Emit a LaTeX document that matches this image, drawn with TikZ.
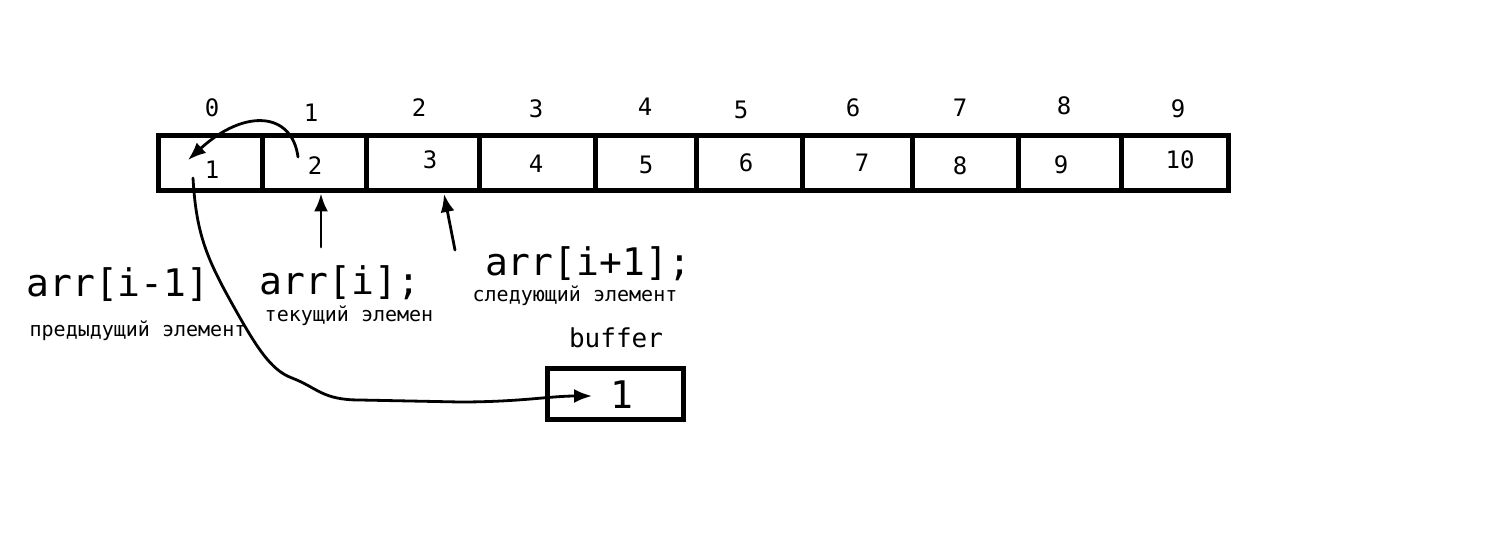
\documentclass[tikz,border=0pt]{standalone}
\usepackage{fontspec}
\setmonofont{DejaVu Sans Mono}
\usetikzlibrary{arrows,arrows.meta,positioning,shapes}

\begin{document}
\begin{tikzpicture}[x=0.5pt,y=-0.5pt,
  cell/.style={rectangle,draw,line width=2.5pt,minimum height=27.5pt,inner sep=0pt},
  idx/.style={font=\ttfamily\fontsize{12}{14}\selectfont},
  val/.style={font=\ttfamily\fontsize{12}{14}\selectfont},
  hand/.style={font=\ttfamily\fontsize{19}{22}\selectfont},
  note/.style={font=\ttfamily\fontsize{10}{12}\selectfont},
  pen/.style={line width=1.4pt,line cap=round,-{Latex[length=9pt,width=7pt]}}]
  \useasboundingbox (0,0) rectangle (1496,556);
  % array cells
  \node[cell,minimum width=52pt] (c0) at (210,163.5) {};
  \node[cell,minimum width=52pt] (c1) at (314,163.5) {};
  \node[cell,minimum width=56.5pt] (c2) at (422.5,163.5) {};
  \node[cell,minimum width=58pt] (c3) at (537,163.5) {};
  \node[cell,minimum width=50.5pt] (c4) at (645.5,163.5) {};
  \node[cell,minimum width=53pt] (c5) at (749,163.5) {};
  \node[cell,minimum width=55pt] (c6) at (857,163.5) {};
  \node[cell,minimum width=53pt] (c7) at (965,163.5) {};
  \node[cell,minimum width=51.5pt] (c8) at (1069.5,163.5) {};
  \node[cell,minimum width=53.5pt] (c9) at (1174.5,163.5) {};
  % indices
  \node[idx] (i0) at (212,108) {0};
  \node[idx] (i1) at (311,113) {1};
  \node[idx] (i2) at (419,108) {2};
  \node[idx] (i3) at (536,109) {3};
  \node[idx] (i4) at (645,107) {4};
  \node[idx] (i5) at (741,110) {5};
  \node[idx] (i6) at (853,108) {6};
  \node[idx] (i7) at (960,108) {7};
  \node[idx] (i8) at (1064,106) {8};
  \node[idx] (i9) at (1178,109) {9};
  % values
  \node[val] (v0) at (212,170) {1};
  \node[val] (v1) at (315,166) {2};
  \node[val] (v2) at (430,160) {3};
  \node[val] (v3) at (536,164) {4};
  \node[val] (v4) at (646,165) {5};
  \node[val] (v5) at (746,163) {6};
  \node[val] (v6) at (862,163) {7};
  \node[val] (v7) at (960,166) {8};
  \node[val] (v8) at (1061,165) {9};
  \node[val] (v9) at (1180,160) {10};
  % labels
  \node[hand] (prev) at (118,285) {arr[i-1]};
  \node[note] (prevtxt) at (138,331) {предыдущий элемент};
  \node[hand] (cur) at (340,283) {arr[i];};
  \node[note] (curtxt) at (349,316) {текущий элемен};
  \node[hand] (next) at (588,264) {arr[i+1];};
  \node[note] (nexttxt) at (575,296) {следующий элемент};
  % buffer
  \node[font=\ttfamily\fontsize{13}{15}\selectfont] (buflbl) at (616,338) {buffer};
  \node[cell,minimum width=68pt,minimum height=25.5pt] (buf) at (615,393.5) {};
  \node[hand] (bv) at (622,395) {1};
  % arrows
  \coordinate (curfoot) at (321,247);
  \coordinate (nextfoot) at (455,250);
  \coordinate (swapst) at (298,157);
  \coordinate (swapend) at (188,160);
  \coordinate (oldst) at (193,178);
  \coordinate (bufin) at (592,396);
  \draw[pen] (curfoot) -- (c1.south -| curfoot);
  \draw[pen] (nextfoot) -- (444,194);
  \draw[pen] (swapst) .. controls (292,112) and (245,108) .. (swapend);
  \draw[pen] (oldst) .. controls (196,230) and (205,255) .. (230,300)
    .. controls (255,345) and (270,370) .. (292,378)
    .. controls (318,388) and (322,400) .. (360,400)
    -- (460,402) .. controls (520,402) and (550,396) .. (bufin);
\end{tikzpicture}
\end{document}
